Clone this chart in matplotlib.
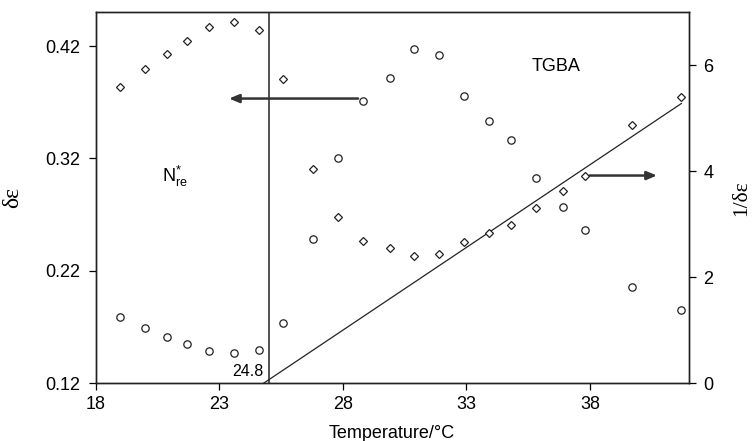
import matplotlib
matplotlib.use('Agg')
import matplotlib.pyplot as plt

plt.rcParams['font.family'] = ['Liberation Sans', 'DejaVu Sans']
plt.rcParams['mathtext.fontset'] = 'custom'
plt.rcParams['mathtext.rm'] = 'Liberation Sans'
plt.rcParams['mathtext.it'] = 'Liberation Sans:italic'

# temperature (°C)
temp = [19.0, 20.0, 20.9, 21.7, 22.6, 23.6, 24.6, 25.6, 26.8, 27.8, 28.8,
        29.9, 30.9, 31.9, 32.9, 33.9, 34.8, 35.8, 36.9, 37.8, 39.7, 41.7]
# dielectric anisotropy (circles, left axis)
d_eps = [0.179, 0.169, 0.161, 0.155, 0.149, 0.147, 0.150, 0.174, 0.248, 0.320, 0.371,
         0.392, 0.417, 0.412, 0.376, 0.353, 0.336, 0.303, 0.277, 0.256, 0.206, 0.185]
# inverse (diamonds, right axis)
inv_d_eps = [5.59, 5.93, 6.22, 6.46, 6.73, 6.82, 6.67, 5.75, 4.04, 3.14, 2.69,
             2.55, 2.41, 2.43, 2.66, 2.83, 2.98, 3.31, 3.62, 3.92, 4.87, 5.41]
# linear fit of 1/δε in TGBA
fit_temp = [24.8, 41.7]
fit_inv = [0.0, 5.28]
t_transition = 25.0

fig = plt.figure(figsize=(7.52, 4.41), dpi=100)
ax = fig.add_axes([0.127, 0.131, 0.789, 0.841])
ax2 = ax.twinx()

ax.set_xlim(18, 42)
ax.set_ylim(0.12, 0.45)
ax2.set_ylim(0, 7)
ax.set_xticks([18, 23, 28, 33, 38])
ax.set_yticks([0.12, 0.22, 0.32, 0.42])
ax.set_yticklabels(['0.12', '0.22', '0.32', '0.42'])
ax2.set_yticks([0, 2, 4, 6])

ax.tick_params(axis='x', direction='out', length=5, width=0.9, labelsize=13, pad=4)
ax.tick_params(axis='y', direction='out', length=5, width=0.9, labelsize=13, pad=6)
ax2.tick_params(axis='y', direction='out', length=5, width=0.9, labelsize=13, pad=5.5)
for a in (ax, ax2):
    for s in a.spines.values():
        s.set_linewidth(1.0)
        s.set_color('#222222')

ax.axvline(t_transition, color='#333333', lw=1.2, zorder=1)
ax2.plot(fit_temp, fit_inv, color='#222222', lw=0.9, zorder=1)

ax.annotate('', xy=(23.4, 0.3733), xytext=(28.62, 0.3733),
            arrowprops=dict(arrowstyle='-|>,head_length=0.6,head_width=0.25',
                            color='#333333', lw=1.8, shrinkA=0, shrinkB=0),
            zorder=2)
ax2.annotate('', xy=(40.71, 3.92), xytext=(37.99, 3.92),
             arrowprops=dict(arrowstyle='-|>,head_length=0.6,head_width=0.25',
                             color='#333333', lw=1.8, shrinkA=0, shrinkB=0),
             zorder=2)

ax.plot(temp, d_eps, 'o', ms=5.3, mfc='white', mec='#222222', mew=0.9, zorder=3)
ax2.plot(temp, inv_d_eps, 'D', ms=3.6, mfc='white', mec='#222222', mew=0.9, zorder=3)

ax.text(20.67, 0.299, r'$\mathrm{N}^{*}_{\mathrm{re}}$', fontsize=13, ha='left', va='baseline')
ax.text(35.63, 0.398, 'TGBA', fontsize=13, ha='left', va='baseline')
ax.text(24.78, 0.126, '24.8', fontsize=11.5, ha='right', va='baseline')

ax.set_xlabel('Temperature/°C', fontsize=13)
ax.xaxis.set_label_coords(0.5, -0.112)
ax.set_ylabel('δε', fontsize=17, family=['Liberation Serif', 'DejaVu Serif'])
ax.yaxis.set_label_coords(-0.1215, 0.5)
ax2.set_ylabel('1/δε', fontsize=15.5, family=['Liberation Serif', 'DejaVu Serif'])
ax2.yaxis.set_label_coords(1.073, 0.5)

fig.savefig('out.png', dpi=100)
